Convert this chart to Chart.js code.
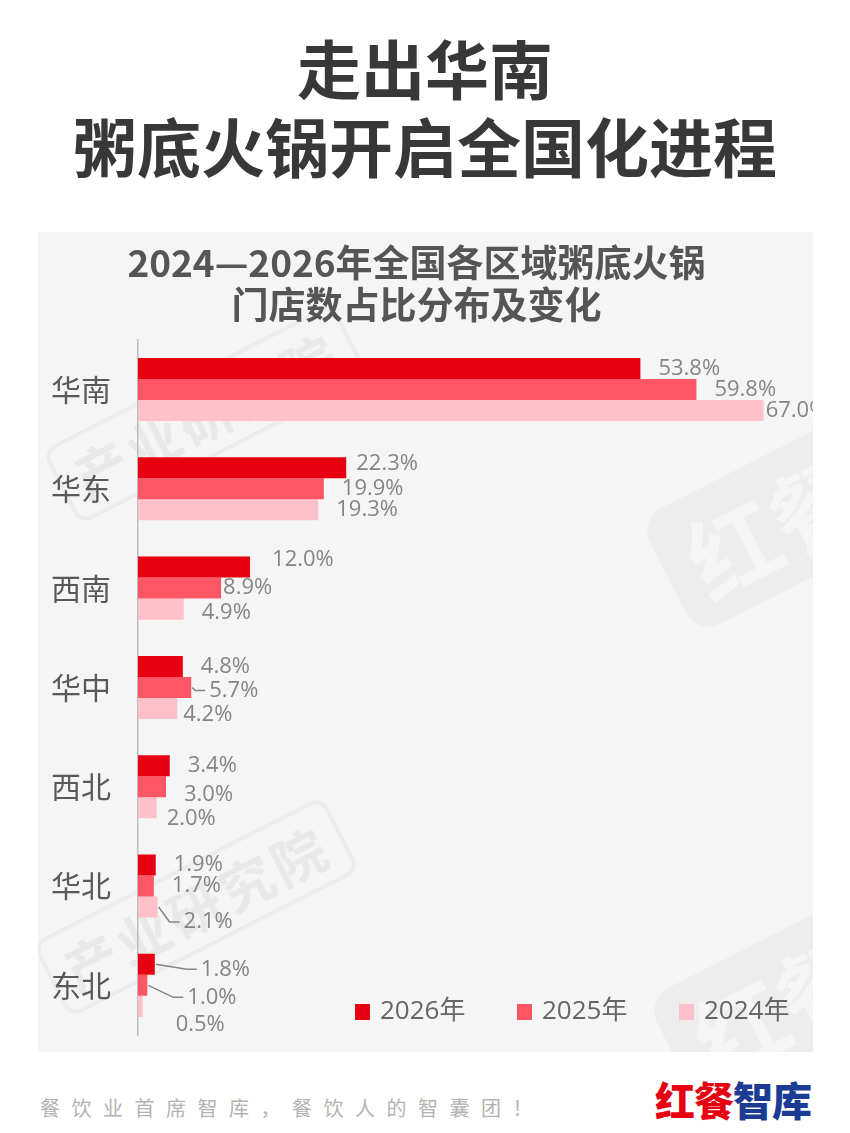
<!DOCTYPE html>
<html>
<head>
<meta charset="utf-8">
<script src="https://cdn.jsdelivr.net/npm/chart.js@4"></script>
<style>
  html, body { margin: 0; padding: 0; background: #fff; }
  body { width: 850px; height: 1133px; position: relative; overflow: hidden;
         font-family: "Noto Sans CJK SC", "Noto Sans", sans-serif; }
  .head { position: absolute; left: 0; top: 27px; width: 850px; text-align: center;
          font-size: 64px; font-weight: 700; color: #383838; line-height: 78px; }
  .panel { position: absolute; left: 38px; top: 232px; width: 775px; height: 820px; background: #f5f5f5; overflow: hidden; }
  .wrap { position: absolute; left: 0; top: 0; width: 775px; height: 820px; z-index: 1; }
  .wm { position: absolute; transform: translate(-50%, -50%) rotate(-27deg); white-space: nowrap; }
  .wm.txt { font-size: 54px; font-weight: 700; color: #e9e9e9; border: 4px solid #ececec;
            border-radius: 14px; padding: 0 14px; line-height: 76px; letter-spacing: 4px; }
  .wm.logo2 { font-size: 92px; font-weight: 700; color: #f5f5f5; background: #ededed;
              border-radius: 26px; padding: 10px 26px; line-height: 110px; }
  .foot { position: absolute; left: 40px; top: 1093px; font-size: 20px; color: #b3b3b3; letter-spacing: 11.5px; }
  .logo { position: absolute; left: 655px; top: 1070px; font-size: 40px; font-weight: 900; letter-spacing: -1px; }
  .logo .r { color: #e60012; } .logo .b { color: #1c3b94; }
</style>
</head>
<body>
<div class="head">走出华南<br>粥底火锅开启全国化进程</div>
<div class="panel">
  <div class="wm txt" style="left:168px; top:182px;">产业研究院</div>
  <div class="wm txt" style="left:158px; top:675px;">产业研究院</div>
  <div class="wm logo2" style="left:735px; top:292px;">红餐</div>
  <div class="wm logo2" style="left:742px; top:772px;">红餐</div>
  <div class="wrap"><canvas id="storeChart"></canvas></div>
</div>
<div class="foot">餐饮业首席智库，餐饮人的智囊团！</div>
<div class="logo"><span class="r">红餐</span><span class="b">智库</span></div>
<script>
// regional share of congee-base hotpot stores, 2024-2026 (%)
const regions = ['华南', '华东', '西南', '华中', '西北', '华北', '东北'];
const years = ['2026年', '2025年', '2024年'];
const share2026 = [53.8, 22.3, 12.0, 4.8, 3.4, 1.9, 1.8];
const share2025 = [59.8, 19.9, 8.9, 5.7, 3.0, 1.7, 1.0];
const share2024 = [67.0, 19.3, 4.9, 4.2, 2.0, 2.1, 0.5];
const colors = ['#e60012', '#ff5666', '#ffc1c9'];

// manual label nudges: [region, series, dx, dy, leader line]
const nudges = [
    [0, 2, -16, 0, false],
    [1, 0, -8, -4, false],
    [2, 0, 4, -7, false],
    [2, 1, -16, 0, false],
    [2, 2, 0, 4, false],
    [3, 1, 0, 3, true],
    [3, 2, -12, 6, false],
    [4, 1, 0, 8, false],
    [4, 2, -8, 11, false],
    [5, 2, 8, 15, true],
    [6, 0, 28, 5, true],
    [6, 1, 22, 12, true],
    [6, 2, 15, 18, false]
];

const barLabels = {
    id: 'barLabels',
    afterDatasetsDraw(chart) {
        const ctx = chart.ctx;
        ctx.save();
        ctx.font = '22px "Open Sans", "Noto Sans", sans-serif';
        ctx.fillStyle = '#858585';
        ctx.strokeStyle = '#858585';
        ctx.lineWidth = 1.5;
        ctx.textBaseline = 'middle';
        chart.data.datasets.forEach((ds, s) => {
            chart.getDatasetMeta(s).data.forEach((bar, i) => {
                const n = nudges.find(v => v[0] === i && v[1] === s);
                const dx = n ? n[2] : 0, dy = n ? n[3] : 0;
                const lx = bar.x + 18 + dx, ly = bar.y + dy;
                if (n && n[4]) {
                    ctx.beginPath();
                    ctx.moveTo(bar.x + 1, bar.y);
                    ctx.lineTo(lx - 14, ly);
                    ctx.lineTo(lx - 4, ly);
                    ctx.stroke();
                }
                ctx.fillText(ds.data[i].toFixed(1) + '%', lx, ly);
            });
        });
        ctx.restore();
    }
};

const yearLegend = {
    id: 'yearLegend',
    afterDraw(chart) {
        const ctx = chart.ctx;
        ctx.save();
        ctx.font = '26px "Open Sans", "Noto Sans CJK SC", sans-serif';
        ctx.textBaseline = 'middle';
        chart.data.datasets.forEach((ds, s) => {
            const x = 317 + s * 162, y = 780;
            ctx.fillStyle = ds.backgroundColor;
            ctx.fillRect(x, y - 8, 15, 16);
            ctx.fillStyle = '#666';
            ctx.fillText(ds.label, x + 25, y);
        });
        ctx.restore();
    }
};

new Chart(document.getElementById('storeChart').getContext('2d'), {
    type: 'bar',
    data: {
        labels: regions,
        datasets: [
            { label: years[0], data: share2026, backgroundColor: colors[0] },
            { label: years[1], data: share2025, backgroundColor: colors[1] },
            { label: years[2], data: share2024, backgroundColor: colors[2] }
        ]
    },
    options: {
        indexAxis: 'y',
        responsive: true,
        maintainAspectRatio: false,
        animation: false,
        barPercentage: 1,
        categoryPercentage: 0.635,
        layout: { padding: { left: -6, right: 12, bottom: 17 } },
        plugins: {
            legend: { display: false },
            tooltip: { enabled: false },
            title: {
                display: true,
                text: ['2024—2026年全国各区域粥底火锅', '门店数占比分布及变化'],
                color: '#555',
                font: { size: 37, weight: 'bold', family: '"Noto Sans CJK SC", sans-serif', lineHeight: 1.16 },
                padding: { top: 9, bottom: 13 }
            }
        },
        scales: {
            x: { display: false, min: 0, max: 71 },
            y: {
                grid: { display: false },
                border: { color: '#bdbdbd', width: 1.5 },
                ticks: { color: '#595959', padding: 19, font: { size: 30, family: '"Noto Sans CJK SC", sans-serif' } },
                // tick padding should only push labels sideways, not shrink the axis
                afterFit: s => { s.paddingTop = 0; s.paddingBottom = 0; }
            }
        }
    },
    plugins: [barLabels, yearLegend]
});
</script>
</body>
</html>
